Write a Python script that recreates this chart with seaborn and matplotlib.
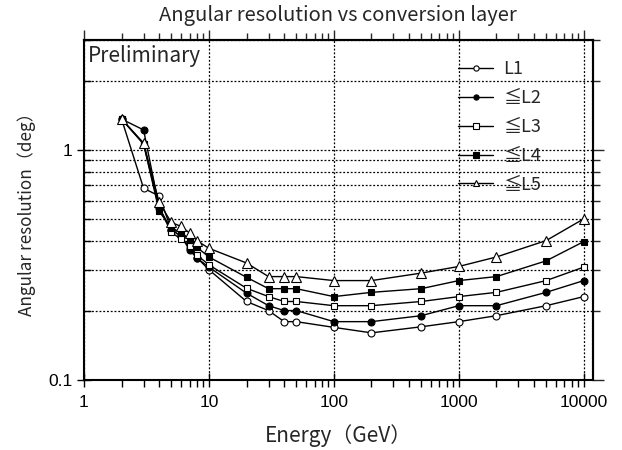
import numpy as np
import pandas as pd
import matplotlib
matplotlib.use('Agg')
import matplotlib.pyplot as plt
from matplotlib.ticker import LogLocator, FixedLocator, NullFormatter, FixedFormatter
import seaborn as sns

energy = [2, 3, 4, 5, 6, 7, 8, 10, 20, 30, 40, 50, 100, 200, 500, 1000, 2000, 5000, 10000]

res_l1 = [1.36, 0.68, 0.63, 0.45, 0.42, 0.375, 0.34, 0.301, 0.219, 0.200, 0.179, 0.179, 0.169, 0.160, 0.170, 0.179, 0.190, 0.210, 0.230]
res_l2 = [1.36, 1.22, 0.56, 0.45, 0.42, 0.367, 0.338, 0.309, 0.238, 0.210, 0.200, 0.200, 0.179, 0.179, 0.190, 0.210, 0.210, 0.240, 0.270]
res_l3 = [1.36, 1.06, 0.56, 0.437, 0.409, 0.383, 0.349, 0.316, 0.250, 0.230, 0.219, 0.219, 0.210, 0.210, 0.219, 0.230, 0.240, 0.270, 0.309]
res_l4 = [1.36, 1.06, 0.54, 0.457, 0.437, 0.406, 0.377, 0.342, 0.279, 0.249, 0.249, 0.249, 0.230, 0.240, 0.249, 0.270, 0.281, 0.329, 0.399]
res_l5 = [1.36, 1.07, 0.59, 0.483, 0.464, 0.435, 0.403, 0.373, 0.322, 0.281, 0.281, 0.281, 0.270, 0.270, 0.291, 0.311, 0.342, 0.403, 0.501]

labels = ['L1', '≦L2', '≦L3', '≦L4', '≦L5']
markers = ['o', 'o', 's', 's', '^']
faces = ['white', 'black', 'white', 'black', 'white']

xticks = [1, 10, 100, 1000, 10000]
xticklabels = ['1', '10', '100', '1000', '10000']
yticks = [0.1, 1]
yticklabels = ['0.1', '1']

sns.set_style('ticks')
plt.rcParams['font.family'] = ['Noto Sans CJK JP', 'DejaVu Sans']
tick_font = ['Liberation Sans', 'DejaVu Sans']

fig = plt.figure(figsize=(6.22, 4.5), dpi=100)
ax = fig.add_axes([0.135, 0.156, 0.818, 0.755])

series = [res_l1, res_l2, res_l3, res_l4, res_l5]
for vals, lab, mk, fc in zip(series, labels, markers, faces):
    sns.lineplot(x=energy, y=vals, ax=ax, color='black', linewidth=1.0,
                 marker=mk, markersize=5 if mk != '^' else 6.5, markerfacecolor=fc,
                 markeredgecolor='black', markeredgewidth=0.8, label=lab)

ax.set_xscale('log')
ax.set_yscale('log')
ax.set_xlim(1, 11800)
ax.set_ylim(0.1, 3.0)

minor_subs = np.arange(2, 10)
ax.xaxis.set_major_locator(FixedLocator(xticks))
ax.xaxis.set_major_formatter(FixedFormatter(xticklabels))
ax.xaxis.set_minor_locator(LogLocator(base=10, subs=minor_subs, numticks=20))
ax.xaxis.set_minor_formatter(NullFormatter())
ax.yaxis.set_major_locator(FixedLocator(yticks))
ax.yaxis.set_major_formatter(FixedFormatter(yticklabels))
ax.yaxis.set_minor_locator(LogLocator(base=10, subs=minor_subs, numticks=20))
ax.yaxis.set_minor_formatter(NullFormatter())

# bottom / left ticks
ax.tick_params(which='both', colors='black', labelsize=12.5)
ax.tick_params(axis='x', which='major', direction='inout', length=10, width=1, pad=6)
ax.tick_params(axis='x', which='minor', direction='out', length=5, width=1)
ax.tick_params(axis='y', which='major', direction='inout', length=10, width=1, pad=3)
ax.tick_params(axis='y', which='minor', direction='in', length=5, width=1)
for lab in ax.get_xticklabels() + ax.get_yticklabels():
    lab.set_family(tick_font)

# top / right ticks pointing outward
top = ax.secondary_xaxis('top')
top.xaxis.set_major_locator(FixedLocator(xticks))
top.xaxis.set_minor_locator(LogLocator(base=10, subs=minor_subs, numticks=20))
top.xaxis.set_major_formatter(NullFormatter())
top.xaxis.set_minor_formatter(NullFormatter())
top.tick_params(which='major', direction='out', length=7, width=1)
top.tick_params(which='minor', direction='out', length=5, width=1)
right = ax.secondary_yaxis('right')
right.yaxis.set_major_locator(FixedLocator(yticks))
right.yaxis.set_minor_locator(LogLocator(base=10, subs=minor_subs, numticks=20))
right.yaxis.set_major_formatter(NullFormatter())
right.yaxis.set_minor_formatter(NullFormatter())
right.tick_params(which='major', direction='out', length=8, width=1)
right.tick_params(which='minor', direction='out', length=5, width=1)
for sec in (top, right):
    for sp in sec.spines.values():
        sp.set_linewidth(1.5)

ax.grid(True, which='major', axis='both', color='black', linestyle=(0, (1.5, 1.5)), linewidth=0.9)
ax.grid(True, which='minor', axis='y', color='black', linestyle=(0, (1.5, 1.5)), linewidth=0.9)

for sp in ax.spines.values():
    sp.set_color('black')
    sp.set_linewidth(1.5)
    sp.set_visible(True)

ax.set_title('Angular resolution vs conversion layer', fontsize=14.5, pad=14)
ax.set_xlabel('Energy（GeV）', fontsize=15, labelpad=10)
ax.set_ylabel('Angular resolution（deg）', fontsize=12.3, labelpad=9)
ax.text(0.008, 0.985, 'Preliminary', transform=ax.transAxes, fontsize=15, va='top', ha='left')

leg = ax.legend(loc='upper left', bbox_to_anchor=(0.735, 0.94), frameon=False, fontsize=13,
                handlelength=1.95, handletextpad=0.55, labelspacing=0.6, borderpad=0,
                borderaxespad=0, markerscale=0.75)

fig.savefig('out.png', dpi=100)
